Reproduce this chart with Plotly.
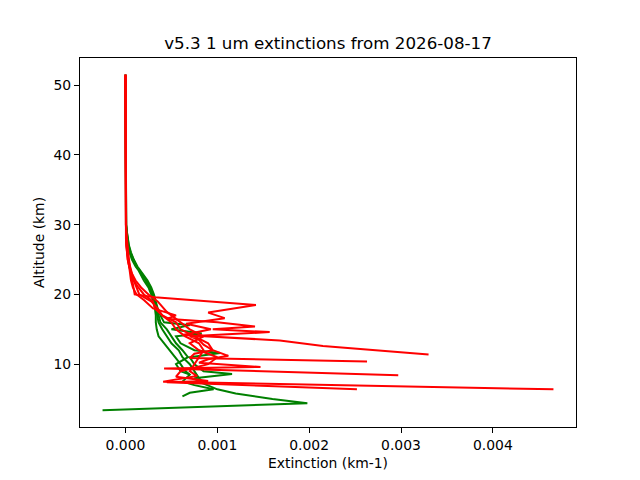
import plotly.graph_objects as go

# Upper part shared shape (altitude km)
top_alt = [51.5, 50.0, 45.0, 40.0, 36.0, 35.0, 34.0, 32.0, 30.0, 29.0, 28.0, 27.0, 26.0, 25.0, 24.0, 23.0, 22.0, 21.0]

# Red profiles: altitude (km) and extinction (km-1)
r1_alt = top_alt + [20.0, 19.6, 18.5, 17.4, 16.6, 15.8, 15.0, 14.2, 13.4, 12.6, 11.4]
r1_ext = [0, 0, 0, 0, 0, -0.000004, 0, 0.000001, 0.000004, 0.000008, 0.000014, 0.00002, 0.00003, 0.000038, 0.000048, 0.00006, 0.00007, 0.00008,
          0.0001, 0.00032, 0.00142, 0.0009, 0.00108, 0.00066, 0.00093, 0.00062, 0.00168, 0.00215, 0.0033]

r2_alt = top_alt + [20.0, 19.2, 18.0, 17.0, 16.5, 16.0, 15.4, 15.0, 14.6, 14.0, 13.5, 12.8, 12.0, 11.5, 10.9, 10.4]
r2_ext = [0, 0, 0, 0, 0, 0, 0, 0.000001, 0.000003, 0.000006, 0.00001, 0.000015, 0.000022, 0.00003, 0.00004, 0.00005, 0.00006, 0.00008,
          0.00012, 0.0002, 0.0003, 0.00055, 0.00045, 0.001, 0.00141, 0.00095, 0.00157, 0.0007, 0.0008, 0.00085, 0.00095, 0.00075, 0.0007, 0.00263]

r3_alt = top_alt + [20.0, 19.0, 18.0, 17.0, 16.0, 15.0, 14.0, 13.0, 12.0, 11.2, 10.7, 10.2, 9.6, 9.4, 8.4]
r3_ext = [0, 0, 0, 0, 0, 0, 0, 0, 0.000002, 0.000004, 0.000008, 0.000012, 0.00002, 0.00003, 0.00005, 0.00007, 0.00009, 0.00012,
          0.00015, 0.00028, 0.00035, 0.0004, 0.00055, 0.0006, 0.00075, 0.0009, 0.00095, 0.00112, 0.0009, 0.0008, 0.00147, 0.00042, 0.00297]

r4_alt = top_alt + [20.0, 19.0, 18.0, 17.0, 16.0, 15.0, 14.0, 13.0, 12.0, 11.0, 10.0, 9.0, 8.3, 7.5, 6.4]
r4_ext = [0, 0, 0, 0, 0, 0, 0, 0, 0.000001, 0.000003, 0.000006, 0.00001, 0.000016, 0.000025, 0.00004, 0.00006, 0.00009, 0.00014,
          0.0002, 0.0003, 0.00032, 0.0004, 0.0005, 0.00055, 0.00065, 0.0008, 0.00085, 0.0008, 0.00075, 0.0007, 0.00078, 0.00041, 0.00466]

r5_alt = top_alt + [20.0, 19.0, 17.5, 16.0, 15.0, 14.0, 13.0, 12.0, 11.0, 10.0, 9.0, 8.2, 7.6, 7.4, 6.4]
r5_ext = [0, 0, 0, 0, 0, 0, 0, 0, 0.000001, 0.000002, 0.000005, 0.000009, 0.000015, 0.000024, 0.00004, 0.00007, 0.00011, 0.00017,
          0.00025, 0.00035, 0.00045, 0.0006, 0.0007, 0.00085, 0.0007, 0.0008, 0.001, 0.0009, 0.0006, 0.00055, 0.0009, 0.00045, 0.00252]

# Green profiles
g_top_alt = [51.5, 50.0, 45.0, 40.0, 36.0, 35.0, 34.0, 32.0, 30.0, 29.0, 28.0, 27.0, 26.0, 25.0, 24.0, 23.5, 22.0, 21.0, 20.0, 19.0]

g1_alt = g_top_alt + [18.0, 17.0, 16.0, 15.0, 14.0, 13.0, 12.0, 11.0, 10.0, 9.0, 8.5, 7.5, 7.0, 6.4, 5.9, 5.4]
g1_ext = [0, 0, 0, 0, 0, 0, 0, 0.000002, 0.000006, 0.000012, 0.00002, 0.00003, 0.00005, 0.00008, 0.00012, 0.00015, 0.00022, 0.00026, 0.00029, 0.00031,
          0.00032, 0.00033, 0.00033, 0.00034, 0.00036, 0.00042, 0.00048, 0.00055, 0.0006, 0.00065, 0.0007, 0.00062, 0.00075, 0.00096, 0.0007, 0.00062]

g2_alt = g_top_alt + [18.0, 17.0, 16.0, 15.6, 15.0, 14.4, 14.0, 13.0, 12.0, 11.6, 11.0, 10.0, 9.0, 8.6, 8.0, 7.5, 7.0, 6.4, 5.8, 5.0, 4.4, 3.4]
g2_ext = [0, 0, 0, 0, 0, 0, 0, 0.000003, 0.000008, 0.000015, 0.000025, 0.000038, 0.00006, 0.00009, 0.00013, 0.00016, 0.00024, 0.00028, 0.00031, 0.00033,
          0.00035, 0.00038, 0.00042, 0.0007, 0.0005, 0.00083, 0.00055, 0.0006, 0.00075, 0.00103, 0.0007, 0.00075, 0.00085, 0.00116, 0.00075, 0.0008, 0.0009,
          0.001, 0.0012, 0.0016, 0.00198, -0.00025]

g3_alt = g_top_alt + [18.0, 16.0, 15.0, 14.0, 13.0, 12.0, 11.0, 10.0, 9.0, 8.0, 7.2]
g3_ext = [0, 0, 0, 0, 0, 0, 0, 0.000002, 0.000005, 0.00001, 0.000018, 0.000028, 0.000045, 0.00007, 0.00011, 0.00014, 0.0002, 0.00025, 0.00028, 0.0003,
          0.00033, 0.00036, 0.0004, 0.00045, 0.0005, 0.00058, 0.00062, 0.0007, 0.00075, 0.0008, 0.00085]

g4_alt = g_top_alt + [18.0, 16.0, 15.0, 14.0, 13.0, 12.0, 11.0, 10.0, 9.0, 8.5]
g4_ext = [0, 0, 0, 0, 0, 0, 0, 0.000003, 0.000007, 0.000014, 0.000022, 0.000034, 0.000055, 0.000085, 0.00012, 0.00015, 0.00023, 0.00027, 0.0003, 0.00032,
          0.00034, 0.00038, 0.00045, 0.0005, 0.00055, 0.00062, 0.00068, 0.00055, 0.0006, 0.0007]

green_profiles = [(g1_ext, g1_alt), (g2_ext, g2_alt), (g3_ext, g3_alt), (g4_ext, g4_alt)]
red_profiles = [(r1_ext, r1_alt), (r2_ext, r2_alt), (r3_ext, r3_alt), (r4_ext, r4_alt), (r5_ext, r5_alt)]

title_text = "v5.3 1 um extinctions from 2026-08-17"
x_label = "Extinction (km-1)"
y_label = "Altitude (km)"

fig = go.Figure()
for ext, alt in green_profiles:
    fig.add_trace(go.Scatter(x=ext, y=alt, mode="lines", line=dict(color="#008000", width=2)))
for ext, alt in red_profiles:
    fig.add_trace(go.Scatter(x=ext, y=alt, mode="lines", line=dict(color="#ff0000", width=2)))

all_x = [v for e, a in green_profiles + red_profiles for v in e]
all_y = [v for e, a in green_profiles + red_profiles for v in a]
xmin, xmax = min(all_x), max(all_x)
ymin, ymax = min(all_y), max(all_y)
xpad = 0.05 * (xmax - xmin)
ypad = 0.05 * (ymax - ymin)

font = "DejaVu Sans"
axis_common = dict(
    showgrid=False, zeroline=False, showline=True, mirror=True, automargin=False,
    linecolor="black", linewidth=1.1, ticks="outside", ticklen=5, tickwidth=1.1,
    tickcolor="black", tickfont=dict(family=font, size=13.9, color="black"),
)

# page body has an 8px offset; compensate so the plot area lands where the reference has it
fig.update_layout(
    width=640, height=480,
    paper_bgcolor="white", plot_bgcolor="white",
    showlegend=False,
    margin=dict(l=72, r=72, t=50, b=61),
    title=dict(text=title_text, x=0.5, xanchor="center", xref="paper",
               y=(480 - 35) / 480, yref="container", yanchor="middle",
               font=dict(family=font, size=16.7, color="black")),
    xaxis=dict(range=[xmin - xpad, xmax + xpad], tick0=0, dtick=0.001, tickformat=".3f",
               title=dict(text=x_label, font=dict(family=font, size=13.9, color="black"), standoff=6),
               **axis_common),
    yaxis=dict(range=[ymin - ypad, ymax + ypad], tick0=0, dtick=10,
               title=dict(text=y_label, font=dict(family=font, size=13.9, color="black"), standoff=5),
               **axis_common),
)

fig.write_html("out.html")
